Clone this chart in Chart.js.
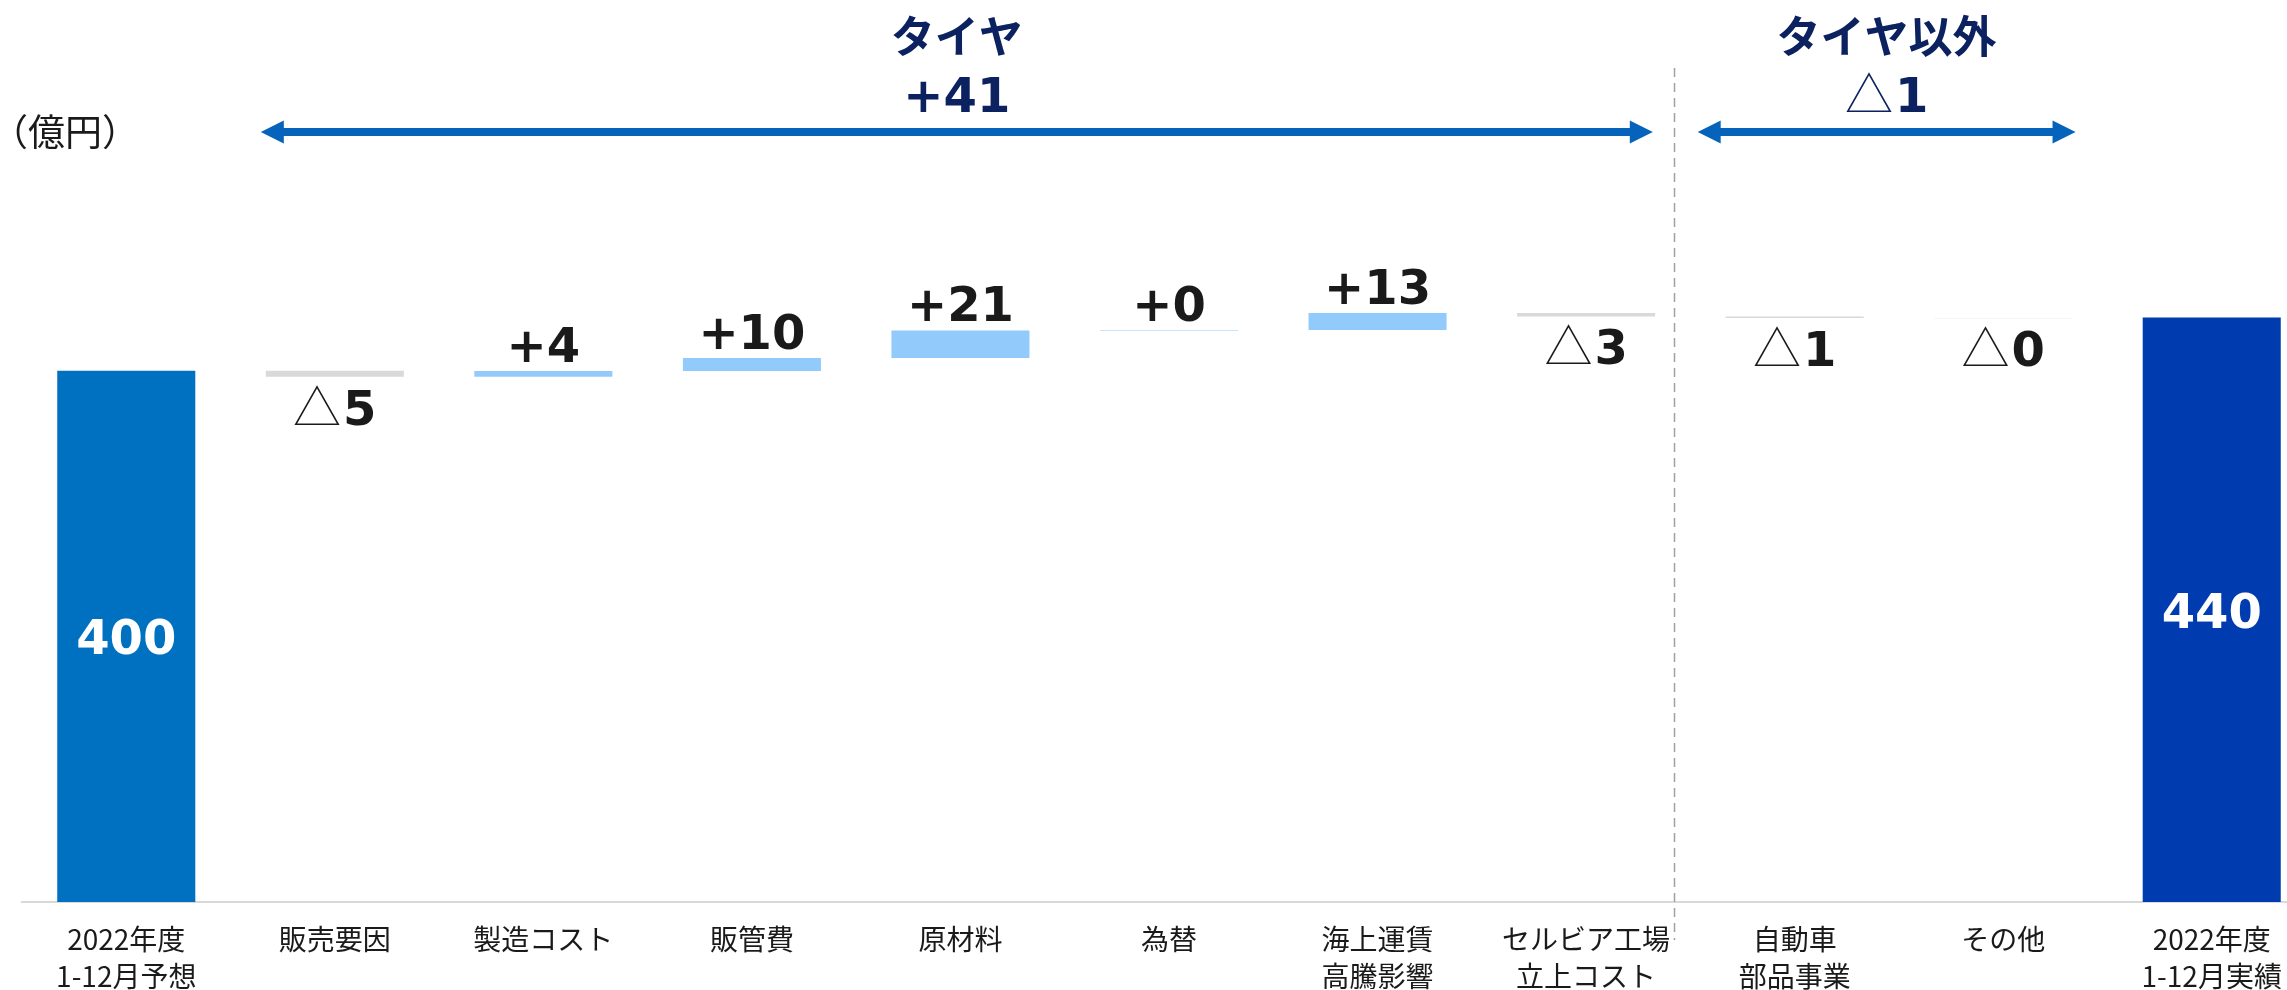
<!DOCTYPE html>
<html lang="ja">
<head>
<meta charset="utf-8">
<title>営業利益 増減要因</title>
<script src="https://cdn.jsdelivr.net/npm/chart.js@4.4.1/dist/chart.umd.min.js"></script>
<style>
  html, body { margin: 0; padding: 0; background: #fff; overflow: hidden; }
  /* the slide is cropped on the right, so the chart is a bit wider than the window */
  #wrap { position: absolute; left: 0; top: 0; width: 2316px; height: 990px; }
</style>
</head>
<body>
<div id="wrap"><canvas id="bridge"></canvas></div>
<script>
// x axis categories
const categories = [
    ['2022年度', '1-12月予想'],
    '販売要因',
    '製造コスト',
    '販管費',
    '原材料',
    '為替',
    ['海上運賃', '高騰影響'],
    ['セルビア工場', '立上コスト'],
    ['自動車', '部品事業'],
    'その他',
    ['2022年度', '1-12月実績']
];

// totals (億円)
const startValue = 400;
const endValue = 440;

// step changes between the two totals
const deltas = [-4.6, 4.3, 9.8, 20.8, 0.3, 12.8, -2.6, -1.1, -0.3];

// group headers over the steps (category indexes)
const groupNames = ['タイヤ', 'タイヤ以外'];
const groupFrom = [1, 8];
const groupTo = [7, 9];

const unitLabel = '（億円）';

const COL_START = '#0070c0';
const COL_END = '#003cb0';
const COL_UP = '#92cafc';
const COL_DOWN = '#d9d9d9';
const COL_NAVY = '#0b2160';
const COL_ARROW = '#0563bb';
const COL_TEXT = '#1a1a1a';

const NUM_FONT = 'bold 48px "DejaVu Sans", Verdana, sans-serif';
const TRI_FONT = '300 48px "Noto Sans CJK JP", sans-serif';

// floating bars for the waterfall
const bars = [[0, startValue]];
const barColors = [COL_START];
let running = startValue;
deltas.forEach(d => {
    bars.push([running, running + d]);
    barColors.push(d >= 0 ? COL_UP : COL_DOWN);
    running += d;
});
bars.push([0, endValue]);
barColors.push(COL_END);

// "+4" or "△5", sign and number drawn in different fonts; y is the baseline
function drawSigned(ctx, d, x, y, color) {
    const num = String(Math.round(Math.abs(d)));
    const up = d >= 0;
    const sign = up ? '+' : '△';
    const signFont = up ? NUM_FONT : TRI_FONT;
    ctx.font = signFont;
    const ws = ctx.measureText(sign).width;
    ctx.font = NUM_FONT;
    const wn = ctx.measureText(num).width;
    const gap = up ? 0 : 2;
    let x0 = x - (ws + gap + wn) / 2;
    ctx.fillStyle = color;
    ctx.textAlign = 'left';
    ctx.textBaseline = 'alphabetic';
    ctx.font = signFont;
    ctx.fillText(sign, x0, y);
    ctx.font = NUM_FONT;
    ctx.fillText(num, x0 + ws + gap, y);
}

function drawArrow(ctx, x1, x2, y) {
    const head = 23;
    ctx.strokeStyle = COL_ARROW;
    ctx.fillStyle = COL_ARROW;
    ctx.lineWidth = 8;
    ctx.beginPath();
    ctx.moveTo(x1 + head - 2, y);
    ctx.lineTo(x2 - head + 2, y);
    ctx.stroke();
    ctx.beginPath();
    ctx.moveTo(x1, y);
    ctx.lineTo(x1 + head, y - head / 2);
    ctx.lineTo(x1 + head, y + head / 2);
    ctx.closePath();
    ctx.fill();
    ctx.beginPath();
    ctx.moveTo(x2, y);
    ctx.lineTo(x2 - head, y - head / 2);
    ctx.lineTo(x2 - head, y + head / 2);
    ctx.closePath();
    ctx.fill();
}

const bridgeLabels = {
    id: 'bridgeLabels',
    afterDatasetsDraw(chart) {
        const ctx = chart.ctx;
        const meta = chart.getDatasetMeta(0);
        const xs = chart.scales.x;
        const cw = xs.getPixelForValue(1) - xs.getPixelForValue(0);
        ctx.save();

        // value labels
        meta.data.forEach((bar, i) => {
            const top = Math.min(bar.y, bar.base);
            const bottom = Math.max(bar.y, bar.base);
            if (i === 0 || i === meta.data.length - 1) {
                const v = i === 0 ? startValue : endValue;
                ctx.font = NUM_FONT;
                ctx.fillStyle = '#ffffff';
                ctx.textAlign = 'center';
                ctx.textBaseline = 'alphabetic';
                ctx.fillText(String(v), bar.x, (top + bottom) / 2 + 18);
            } else {
                const d = deltas[i - 1];
                if (d >= 0) {
                    drawSigned(ctx, d, bar.x, top - 9, COL_TEXT);
                } else {
                    drawSigned(ctx, d, bar.x, bottom + 48, COL_TEXT);
                }
            }
        });

        // group headers with arrows
        const spans = [[-0.355, 0.32], [-0.465, 0.347]];
        groupNames.forEach((name, g) => {
            const left = xs.getPixelForValue(groupFrom[g]) + spans[g][0] * cw;
            const right = xs.getPixelForValue(groupTo[g]) + spans[g][1] * cw;
            const cx = (left + right) / 2;
            let sum = 0;
            for (let k = groupFrom[g]; k <= groupTo[g]; k++) sum += deltas[k - 1];
            ctx.font = 'bold 44px "Noto Sans CJK JP", sans-serif';
            ctx.fillStyle = COL_NAVY;
            ctx.textAlign = 'center';
            ctx.textBaseline = 'middle';
            ctx.fillText(name, cx, 36);
            drawSigned(ctx, sum, cx, 112, COL_NAVY);
            drawArrow(ctx, left, right, 132);
        });

        // dashed divider between the two groups
        const dx = xs.getPixelForValue(groupTo[0]) + 0.424 * cw;
        ctx.strokeStyle = '#a0a0a0';
        ctx.lineWidth = 1.5;
        ctx.setLineDash([9, 6]);
        ctx.beginPath();
        ctx.moveTo(dx, 68);
        ctx.lineTo(dx, 940);
        ctx.stroke();
        ctx.setLineDash([]);

        // unit (full-width brackets, nudged left so the bracket ink starts near the edge)
        ctx.font = '37px "Noto Sans CJK JP", sans-serif';
        ctx.fillStyle = COL_TEXT;
        ctx.textAlign = 'left';
        ctx.textBaseline = 'middle';
        ctx.fillText(unitLabel, -9, 132);

        ctx.restore();
    }
};

new Chart(document.getElementById('bridge').getContext('2d'), {
    type: 'bar',
    data: {
        labels: categories,
        datasets: [{
            data: bars,
            backgroundColor: barColors,
            borderWidth: 0,
            categoryPercentage: 1,
            barPercentage: 0.662
        }]
    },
    options: {
        responsive: true,
        maintainAspectRatio: false,
        animation: false,
        layout: { padding: { top: 105, left: 22, right: 0, bottom: 0 } },
        plugins: {
            legend: { display: false },
            tooltip: { enabled: false }
        },
        scales: {
            x: {
                offset: true,
                grid: { display: false, drawTicks: false },
                border: { display: true, color: '#d9d9d9', width: 2 },
                ticks: {
                    color: COL_TEXT,
                    font: { family: '"Noto Sans CJK JP", sans-serif', size: 28, lineHeight: 1.32 },
                    padding: 19,
                    maxRotation: 0,
                    autoSkip: false
                },
                afterFit(scale) { scale.height = 88; }
            },
            y: {
                display: false,
                min: 0,
                max: 600
            }
        }
    },
    plugins: [bridgeLabels]
});
</script>
</body>
</html>
